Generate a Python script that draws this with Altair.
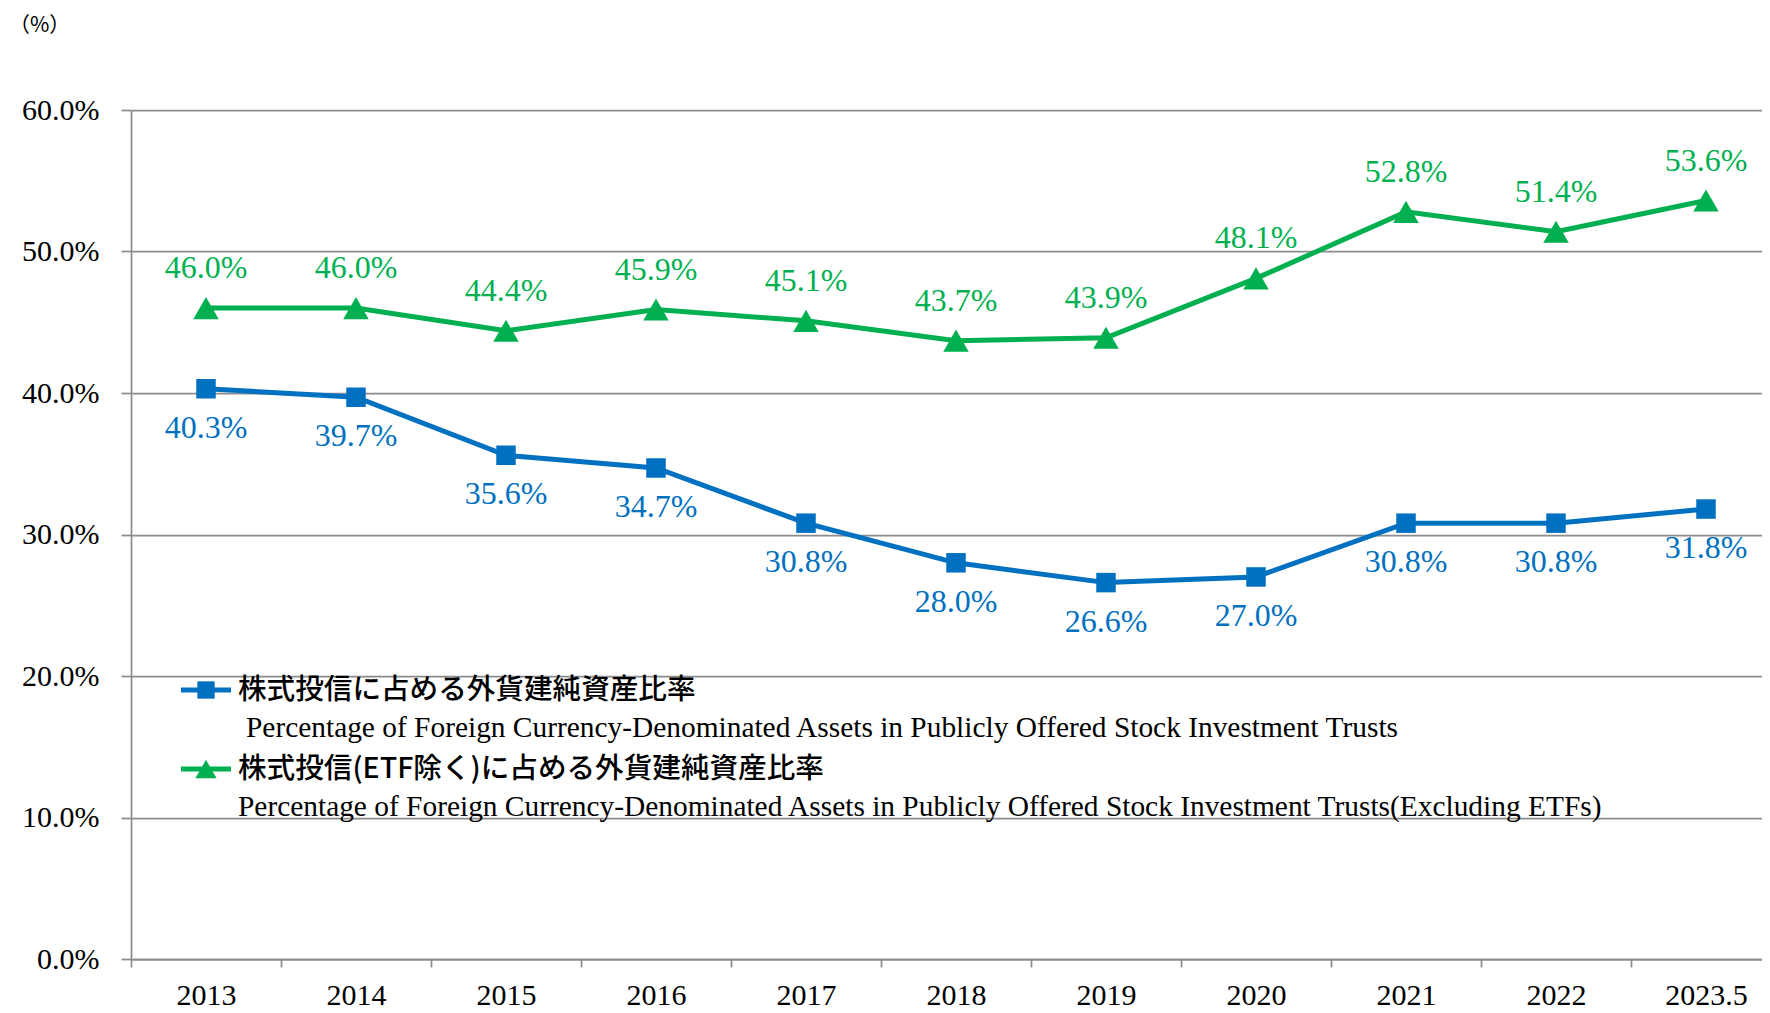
import altair as alt
import pandas as pd

# ---- data ----
years = ["2013", "2014", "2015", "2016", "2017", "2018", "2019", "2020", "2021", "2022", "2023.5"]
stock_all = [40.3, 39.7, 35.6, 34.7, 30.8, 28.0, 26.6, 27.0, 30.8, 30.8, 31.8]
stock_ex_etf = [46.0, 46.0, 44.4, 45.9, 45.1, 43.7, 43.9, 48.1, 52.8, 51.4, 53.6]
series_ja = ["株式投信に占める外貨建純資産比率", "株式投信(ETF除く)に占める外貨建純資産比率"]
series_en = [
    "Percentage of Foreign Currency-Denominated Assets in Publicly Offered Stock Investment Trusts",
    "Percentage of Foreign Currency-Denominated Assets in Publicly Offered Stock Investment Trusts(Excluding ETFs)",
]
y_ticks = [0, 10, 20, 30, 40, 50, 60]
unit_label = "（%）"

BLUE = "#0070C0"
GREEN = "#00B050"
GRID = "#8c8c8c"
SERIF = "Liberation Serif"
JP = "Noto Sans CJK JP"

df = pd.DataFrame({
    "year": years * 2,
    "value": stock_all + stock_ex_etf,
    "series": [series_ja[0]] * len(years) + [series_ja[1]] * len(years),
})
df["label"] = df["value"].map(lambda v: f"{v:.1f}%")

W, H = 1631, 849
BAND_RANGE = 1650

x_enc = alt.X(
    "year:N", sort=years,
    scale=alt.Scale(type="band", paddingInner=0, paddingOuter=0, range=[0, BAND_RANGE]),
    axis=alt.Axis(title=None, labelAngle=0, tickBand="extent", grid=False,
                  domainColor=GRID, domainWidth=1.75, tickColor=GRID, tickWidth=1.75,
                  tickSize=8, labelFont=SERIF, labelFontSize=30, labelColor="black",
                  labelPadding=13),
)
y_enc = alt.Y(
    "value:Q",
    scale=alt.Scale(domain=[0, 60], nice=False, zero=True),
    axis=alt.Axis(title=None, values=y_ticks, labelExpr="format(datum.value, '.1f') + '%'",
                  grid=True, gridColor=GRID, gridWidth=1.75, domainColor=GRID, domainWidth=1.75,
                  tickColor=GRID, tickWidth=1.75, tickSize=10, labelFont=SERIF,
                  labelFontSize=30, labelColor="black", labelPadding=22),
)
color_enc = alt.Color("series:N", scale=alt.Scale(domain=series_ja, range=[BLUE, GREEN]), legend=None)

base = alt.Chart(df)
lines = base.mark_line(strokeWidth=5).encode(x=x_enc, y=y_enc, color=color_enc)
points = base.mark_point(filled=True, opacity=1).encode(
    x=x_enc, y=y_enc, color=color_enc,
    shape=alt.Shape("series:N", scale=alt.Scale(domain=series_ja, range=["square", "triangle-up"]), legend=None),
    size=alt.Size("series:N", scale=alt.Scale(domain=series_ja, range=[380, 650]), legend=None),
)
lab_blue = base.transform_filter(alt.datum.series == series_ja[0]).mark_text(
    font=SERIF, fontSize=32, color=BLUE, baseline="middle", dy=39
).encode(x=x_enc, y=y_enc, text="label:N")
lab_green = base.transform_filter(alt.datum.series == series_ja[1]).mark_text(
    font=SERIF, fontSize=32, color=GREEN, baseline="middle", dy=-40
).encode(x=x_enc, y=y_enc, text="label:N")


def legend_item(color, shape, size, y, ja, en, en_x):
    one = alt.Chart(pd.DataFrame({"ja": [ja], "en": [en]}))
    rule = one.mark_rule(color=color, strokeWidth=5).encode(
        x=alt.value(50), x2=alt.value(100), y=alt.value(y))
    sym = one.mark_point(shape=shape, filled=True, color=color, size=size, opacity=1).encode(
        x=alt.value(75), y=alt.value(y))
    ja_t = one.mark_text(align="left", baseline="middle", font=JP, fontSize=28.6,
                         fontWeight=500, color="black").encode(
        x=alt.value(107), y=alt.value(y), text="ja:N")
    en_t = one.mark_text(align="left", baseline="middle", font=SERIF, fontSize=29.4,
                         color="black").encode(
        x=alt.value(en_x), y=alt.value(y + 38), text="en:N")
    return [rule, sym, ja_t, en_t]


leg = legend_item(BLUE, "square", 300, 580, series_ja[0], series_en[0], 115) + \
      legend_item(GREEN, "triangle-up", 450, 659, series_ja[1], series_en[1], 107)

unit = alt.Chart(pd.DataFrame({"t": [unit_label]})).mark_text(
    font=JP, fontSize=21, color="black", baseline="middle", align="left"
).encode(x=alt.value(-122), y=alt.value(-84), text="t:N")

chart = alt.layer(lines, points, lab_blue, lab_green, *leg, unit).properties(
    width=W, height=H,
    autosize=alt.AutoSizeParams(type="none"),
    padding={"left": 123, "top": 102, "right": 0, "bottom": 54},
    background="white",
).configure_view(stroke=None)

chart.save("out.html", embed_options={"renderer": "svg", "actions": False})
